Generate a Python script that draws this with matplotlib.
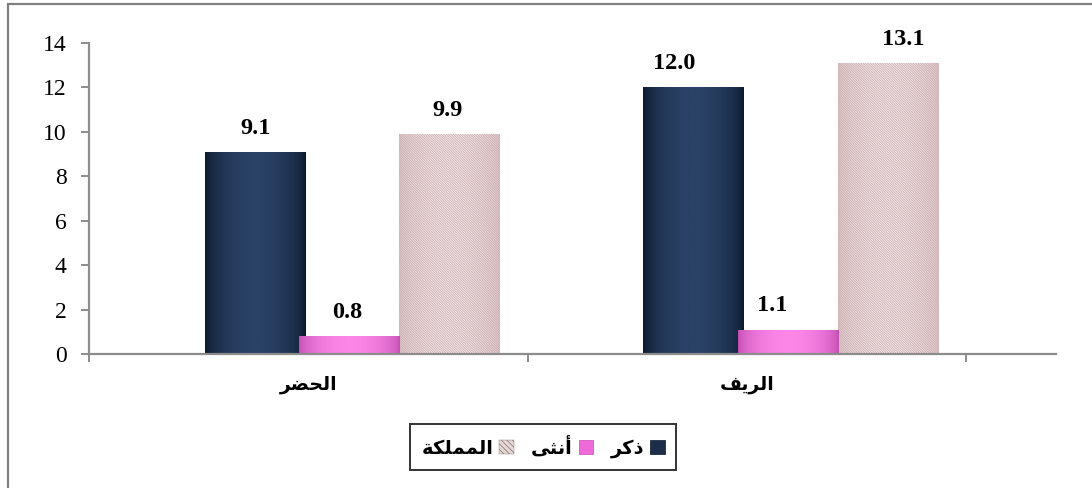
import numpy as np
import matplotlib
matplotlib.use('Agg')
import matplotlib.pyplot as plt
from matplotlib.patches import Patch, Rectangle
from matplotlib.colors import LinearSegmentedColormap

# ---------------- data ----------------
categories = ['الحضر', 'الريف']
series_names = ['ذكر', 'أنثى', 'المملكة']
male = [9.1, 12.0]
female = [0.8, 1.1]
kingdom = [9.9, 13.1]
yticks = [0, 2, 4, 6, 8, 10, 12, 14]

# ---------------- simple Arabic shaping (presentation forms) ----------------
FORMS = {
    'ا': ('\uFE8D', '\uFE8E'), 'أ': ('\uFE83', '\uFE84'), 'ر': ('\uFEAD', '\uFEAE'),
    'ذ': ('\uFEAB', '\uFEAC'), 'ى': ('\uFEEF', '\uFEF0'), 'ة': ('\uFE93', '\uFE94'),
    'ل': ('\uFEDD', '\uFEDE', '\uFEDF', '\uFEE0'), 'ح': ('\uFEA1', '\uFEA2', '\uFEA3', '\uFEA4'),
    'ض': ('\uFEBD', '\uFEBE', '\uFEBF', '\uFEC0'), 'ي': ('\uFEF1', '\uFEF2', '\uFEF3', '\uFEF4'),
    'ف': ('\uFED1', '\uFED2', '\uFED3', '\uFED4'), 'ك': ('\uFED9', '\uFEDA', '\uFEDB', '\uFEDC'),
    'ن': ('\uFEE5', '\uFEE6', '\uFEE7', '\uFEE8'), 'ث': ('\uFE99', '\uFE9A', '\uFE9B', '\uFE9C'),
    'م': ('\uFEE1', '\uFEE2', '\uFEE3', '\uFEE4'),
}


def shape(word):
    out = []
    n = len(word)
    for i, ch in enumerate(word):
        f = FORMS.get(ch)
        if f is None:
            out.append(ch)
            continue
        jp = i > 0 and word[i - 1] in FORMS and len(FORMS[word[i - 1]]) == 4
        jn = i < n - 1 and word[i + 1] in FORMS and len(f) == 4
        if jp and jn:
            g = f[3]
        elif jn:
            g = f[2]
        elif jp:
            g = f[1]
        else:
            g = f[0]
        out.append(g)
    return ''.join(reversed(out))


plt.rcParams['font.family'] = ['Liberation Serif', 'DejaVu Sans']
plt.rcParams['hatch.linewidth'] = 0.55

W, H = 1092, 488
fig = plt.figure(figsize=(W / 100, H / 100), dpi=100)
fig.patch.set_facecolor('white')

# axes placement (pixels)
x0px, x1px, y0px, y1px = 89, 1056, 354, 43
ax = fig.add_axes([x0px / W, 1 - y0px / H, (x1px - x0px) / W, (y0px - y1px) / H])
xmax = (x1px - x0px) / 438.5
ax.set_xlim(0, xmax)
ax.set_ylim(0, 14)

# ---------------- bars ----------------
xc = np.arange(len(categories)) + 0.5
offsets = [-0.121, 0.095, 0.323]
width = 0.23
# horizontal nudges of the value labels (points), per series / category
label_dx = [[0, -14], [-2, -12], [-2, 11]]
label_dy = [17, 17, 17]

styles = [
    dict(edge='#0a1628', mid='#2a4266', z=3),
    dict(edge='#c04aae', mid='#fb86e8', z=4),
    dict(edge='#dcc4c4', mid='#f7ecec', z=3),
]
series_vals = [male, female, kingdom]

t = np.linspace(0, 1, 256)
prof = np.sin(np.pi * t) ** 0.55
grad = prof[np.newaxis, :]

for si, (vals, st, off) in enumerate(zip(series_vals, styles, offsets)):
    cmap = LinearSegmentedColormap.from_list('c%d' % si, [st['edge'], st['mid']])
    bars = ax.bar(xc + off, vals, width=width, color=st['mid'], linewidth=0,
                  zorder=st['z'])
    for b in bars:
        x, y = b.get_x(), b.get_y()
        w, h = b.get_width(), b.get_height()
        im = ax.imshow(grad, cmap=cmap, aspect='auto', extent=(x, x + w, y, y + h),
                       zorder=st['z'] + 0.1, interpolation='bilinear')
        im.set_clip_path(b)
    if si == 2:
        ax.bar(xc + off, vals, width=width, facecolor='none', edgecolor='#c8aaae',
               linewidth=0, hatch='\\' * 14, zorder=st['z'] + 0.2)
    for ci, (xv, v) in enumerate(zip(xc + off, vals)):
        ax.annotate('{:.1f}'.format(v), (xv, v), xytext=(label_dx[si][ci], label_dy[si]),
                    textcoords='offset points', ha='center', va='center', fontsize=17.5,
                    fontweight='bold', family='Liberation Serif', color='black', zorder=10)

ax.set_xlim(0, xmax)

# ---------------- axes styling ----------------
for s in ['top', 'right']:
    ax.spines[s].set_visible(False)
for s in ['left', 'bottom']:
    ax.spines[s].set_color('#8c8c8c')
    ax.spines[s].set_linewidth(1.6)
    ax.spines[s].set_zorder(6)

ax.set_yticks(yticks)
ax.set_yticklabels([str(v) for v in yticks], fontsize=17, family='Liberation Serif')
ax.tick_params(axis='y', direction='out', length=6, width=1.4, color='#8c8c8c', pad=10)

ax.set_xticks([0, 1, 2])
ax.set_xticklabels(['', '', ''])
ax.set_xticks(xc, minor=True)
ax.set_xticklabels([shape(c) for c in categories], minor=True, fontsize=13.5,
                   fontweight='bold', family='DejaVu Sans')
ax.tick_params(axis='x', which='major', direction='out', length=6, width=1.4,
               color='#8c8c8c')
ax.tick_params(axis='x', which='minor', length=0, pad=15)

# ---------------- legend ----------------
leg_handles = [
    Patch(facecolor='#e6d6d6', edgecolor='#8a7a7a', hatch='\\' * 6, linewidth=0.3),
    Patch(facecolor='#ee6ad8', edgecolor='#c84ab2', linewidth=0.5),
    Patch(facecolor='#1b2d48', edgecolor='#0a182b', linewidth=0.5),
]
leg_labels = [shape(series_names[2]), shape(series_names[1]), shape(series_names[0])]
leg = fig.legend(leg_handles, leg_labels, loc='center', bbox_to_anchor=(543 / W, 1 - 447 / H),
                 ncol=3, markerfirst=False, frameon=True, fancybox=False, shadow=False,
                 handlelength=0.75, handleheight=0.75, handletextpad=0.3, columnspacing=0.9,
                 borderpad=0.6, borderaxespad=0,
                 prop={'family': 'DejaVu Sans', 'weight': 'bold', 'size': 14})
leg.get_frame().set_edgecolor('black')
leg.get_frame().set_linewidth(1.4)

# outer border (continues beyond right/bottom edges)
fig.patches.append(Rectangle((8 / W, -0.1), 1.2, 1 - 4 / H + 0.1, transform=fig.transFigure,
                             fill=False, edgecolor='#808080', linewidth=1.6, clip_on=False))

fig.savefig('out.png', dpi=100, facecolor='white')
